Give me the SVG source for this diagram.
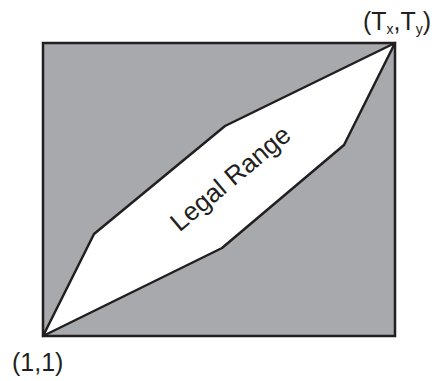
<svg xmlns="http://www.w3.org/2000/svg" width="435" height="381" viewBox="0 0 435 381">
<style>
.t{font-family:"Liberation Sans",Arial,sans-serif;fill:#231f20}
.sub{font-size:14px}
</style>
<rect width="435" height="381" fill="#fff"/>
<g id="area">
<rect x="43" y="43" width="352" height="293" fill="#a7a9ac" stroke="#231f20" stroke-width="2.5"/>
</g>
<g id="legal">
<polygon points="43,336 94,234 225,126 395,43 344,145 222,248" fill="#fff" stroke="#231f20" stroke-width="2.5" stroke-linejoin="round"/>
<text class="t" font-size="26" text-anchor="middle" transform="translate(236,185) rotate(-40)">Legal Range</text>
</g>
<g id="labels">
<text class="t" font-size="25" x="363" y="30">(T<tspan class="sub" dy="4">x</tspan><tspan dy="-4">,T</tspan><tspan class="sub" dy="4">y</tspan><tspan dy="-4">)</tspan></text>
<text class="t" font-size="25" x="12" y="371">(1,1)</text>
</g>
</svg>
